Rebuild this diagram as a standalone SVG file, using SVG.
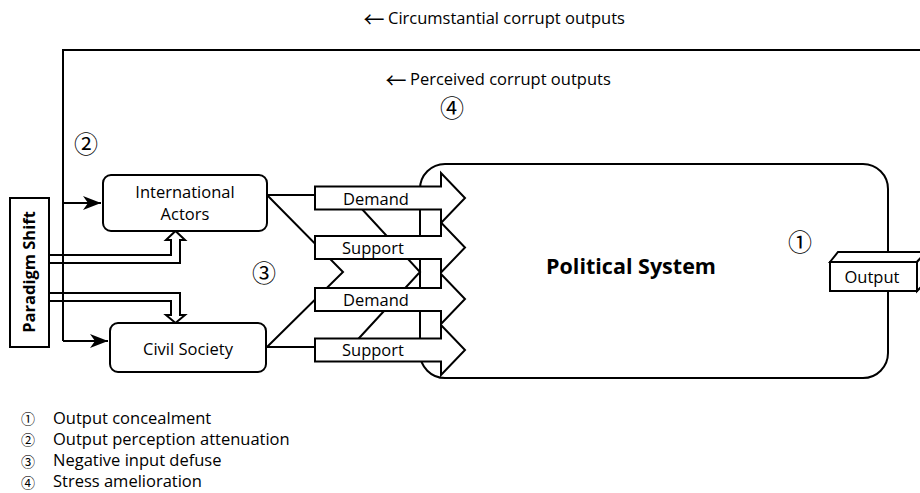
<svg xmlns="http://www.w3.org/2000/svg" width="920" height="493" viewBox="0 0 920 493">
<style>
.s{fill:none;stroke:#000;stroke-width:2}
.w{fill:#fff;stroke:#000;stroke-width:2;stroke-linejoin:miter}
.t{font-family:"Open Sans","Liberation Sans",sans-serif;font-size:16.5px;fill:#000}
.b{font-family:"Open Sans","Liberation Sans",sans-serif;font-weight:bold;fill:#000}
.c{font-family:"Noto Sans CJK JP","DejaVu Sans",sans-serif;fill:#000;dominant-baseline:central;text-anchor:middle}
.m{text-anchor:middle}
</style>
<defs>
<marker id="ah" markerUnits="userSpaceOnUse" markerWidth="18" markerHeight="14" refX="18" refY="7" orient="auto">
<path d="M0,0 L18,7 L0,14 L5,7 Z" fill="#000"/>
</marker>
</defs>

<g id="node-political">
<rect x="420" y="164" width="468" height="214" rx="25" ry="25" class="w"/>
<text x="631" y="274" class="b m" font-size="21.5">Political System</text>
</g>

<g id="connectors">
<path class="s" d="M63,341 V50 H920"/>
<path class="s" d="M63,203 H101" marker-end="url(#ah)"/>
<path class="s" d="M63,341 H108" marker-end="url(#ah)"/>
<path class="s" d="M267,195 H315 M267,195 L343,272 L267,347 M267,347 H315"/>
<path class="s" d="M349,195 L420,272 L349,349"/>
<path class="s" d="M49,255 H171 V240 H166 L175.5,231 L185,240 H180 V263 H49"/>
<path class="s" d="M49,293 H180 V315 H185 L175.5,323 L166,315 H171 V301 H49"/>
</g>

<g id="input-demand-1">
<path class="w" d="M315,186.5 H441 V173 L465,198 L441,223 V209.5 H315 Z"/>
<text x="343" y="204.5" class="t" font-size="17.6">Demand</text>
</g>
<g id="input-support-1">
<path class="w" d="M315,236 H441 V222.5 L465,247.5 L441,272.5 V259 H315 Z"/>
<text x="342" y="253.5" class="t" font-size="17.6">Support</text>
</g>
<g id="input-demand-2">
<path class="w" d="M315,288 H441 V274 L465,299 L441,324 V311 H315 Z"/>
<text x="343" y="306" class="t" font-size="17.6">Demand</text>
</g>
<g id="input-support-2">
<path class="w" d="M315,338.5 H441 V325 L465,350 L441,375 V361.5 H315 Z"/>
<text x="342" y="356" class="t" font-size="17.6">Support</text>
</g>

<g id="node-output">
<path class="w" d="M830,262 L838,252 H926 L917,262 Z"/>
<path class="w" d="M917,262 L926,252 V282 L917,291 Z"/>
<rect x="830" y="262" width="87" height="29" class="w"/>
<text x="872" y="283" class="t m">Output</text>
</g>

<g id="node-international-actors">
<rect x="103" y="175" width="164" height="56" rx="8" ry="8" class="w"/>
<text x="185" y="198" class="t m" font-size="16.2">International</text>
<text x="185" y="220" class="t m" font-size="16.2">Actors</text>
</g>

<g id="node-civil-society">
<rect x="110" y="323" width="156" height="49" rx="8" ry="8" class="w"/>
<text x="188" y="355" class="t m">Civil Society</text>
</g>

<g id="node-paradigm-shift">
<rect x="10" y="198" width="39" height="149" class="w"/>
<text transform="translate(35,272) rotate(-90)" class="b m" font-size="16.5">Paradigm Shift</text>
</g>

<g id="labels">
<text x="374" y="18" class="c" font-size="21">←</text>
<text x="388" y="24" class="t" font-size="17.2">Circumstantial corrupt outputs</text>
<text x="396" y="79" class="c" font-size="21">←</text>
<text x="410" y="85" class="t" font-size="17.2">Perceived corrupt outputs</text>
<text x="800" y="240" class="c" font-size="24">①</text>
<text x="86" y="142" class="c" font-size="24">②</text>
<text x="264" y="271" class="c" font-size="24">③</text>
<text x="452" y="106" class="c" font-size="24">④</text>
</g>

<g id="legend">
<text x="28" y="418" class="c" font-size="14">①</text>
<text x="28" y="439" class="c" font-size="14">②</text>
<text x="28" y="461" class="c" font-size="14">③</text>
<text x="28" y="482" class="c" font-size="14">④</text>
<text x="53" y="424" class="t" font-size="14.8">Output concealment</text>
<text x="53" y="445" class="t" font-size="14.8">Output perception attenuation</text>
<text x="53" y="466" class="t" font-size="14.8">Negative input defuse</text>
<text x="53" y="487" class="t" font-size="14.8">Stress amelioration</text>
</g>
</svg>
